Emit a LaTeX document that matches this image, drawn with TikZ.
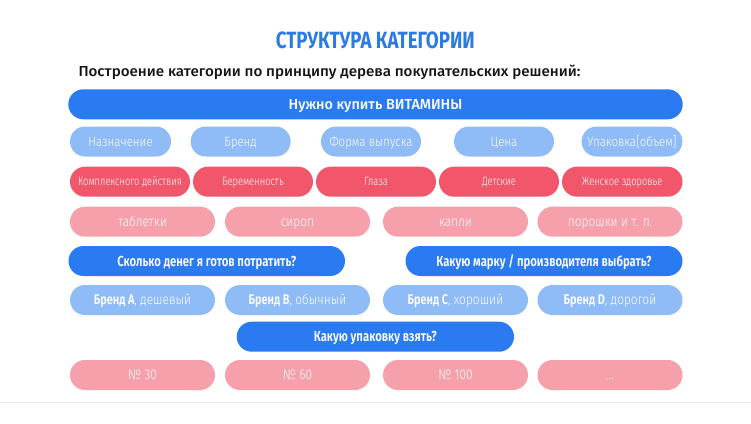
\documentclass[tikz,border=0pt]{standalone}
\usepackage{fontspec}
\setmainfont{Fira Sans}
\newfontfamily\ftitle{Fira Sans}[UprightFont={* Bold}]
\newfontfamily\fsemi{Fira Sans}[UprightFont={* SemiBold},FakeStretch=0.78]
\newfontfamily\fmed{Fira Sans}[UprightFont={* Medium},FakeStretch=0.99]
\newfontfamily\flight{Fira Sans}[UprightFont={* Light},FakeStretch=0.85]
\newfontfamily\fred{Fira Sans}[UprightFont={* Light},FakeStretch=0.78]
\newfontfamily\fsub{Fira Sans}[UprightFont={* Medium}]
\definecolor{mainblue}{HTML}{2A7BF2}
\definecolor{titleblue}{HTML}{2C7BE5}
\definecolor{lightblue}{HTML}{8FBBF7}
\definecolor{redbox}{HTML}{F2566B}
\definecolor{pinkbox}{HTML}{F6A0AB}
\definecolor{subtext}{HTML}{141414}
\tikzset{
  pill/.style={rectangle, rounded corners=15pt, minimum height=30pt, inner sep=0pt, text=white, align=center, text depth=0pt},
  topbar/.style={pill, fill=mainblue, font=\fmed\fontsize{14.5}{16}\selectfont, text height=10pt},
  blueq/.style={pill, fill=mainblue, font=\fsemi\fontsize{14.5}{16}\selectfont, text height=10pt},
  lb/.style={pill, fill=lightblue, font=\flight\fontsize{13.5}{15}\selectfont, text height=9.3pt},
  rd/.style={pill, fill=redbox, font=\fred\fontsize{12}{14}\selectfont, text height=8.3pt},
  pk/.style={pill, fill=pinkbox, font=\flight\fontsize{14}{16}\selectfont, text height=9.6pt},
  brand/.style={pill, fill=lightblue, font=\flight\fontsize{14}{16}\selectfont, text height=9.6pt},
}
\begin{document}
\begin{tikzpicture}[x=1pt,y=-1pt]
\useasboundingbox[fill=white] (0,0) rectangle (751,423);
\draw[black!7, line width=1pt] (0,402) -- (751,402);
% title
\node[inner sep=0pt, text=titleblue] (title) at (375.3,40) {\resizebox{199pt}{16.7pt}{\ftitle СТРУКТУРА КАТЕГОРИИ}};
\node[inner sep=0pt, anchor=base west, text=subtext] (sub) at (78.3,76.7) {\resizebox{502pt}{\height}{\fsub\fontsize{14.5}{16}\selectfont Построение категории по принципу дерева покупательских решений:}};
% row 1
\node[topbar, minimum width=614.4pt] (need) at (375.5,104.3) {Нужно купить ВИТАМИНЫ};
% row 2
\node[lb, minimum width=101pt] (c1) at (120.5,141.5) {Назначение};
\node[lb, minimum width=100pt] (c2) at (240.6,141.5) {Бренд};
\node[lb, minimum width=100pt] (c3) at (371,141.5) {Форма выпуска};
\node[lb, minimum width=100pt] (c4) at (504,141.5) {Цена};
\node[lb, minimum width=100.8pt] (c5) at (632,141.5) {Упаковка[объем]};
% row 3
\node[rd, minimum width=120pt] (p1) at (130,181.7) {Комплексного действия};
\node[rd, minimum width=120pt] (p2) at (253,181.7) {Беременность};
\node[rd, minimum width=120pt] (p3) at (376,181.7) {Глаза};
\node[rd, minimum width=120pt] (p4) at (499,181.7) {Детские};
\node[rd, minimum width=120.5pt] (p5) at (622.25,181.7) {Женское здоровье};
% row 4
\node[pk, minimum width=145pt] (f1) at (142.5,221.7) {таблетки};
\node[pk, minimum width=145pt] (f2) at (297.5,221.7) {сироп};
\node[pk, minimum width=145pt] (f3) at (455.5,221.7) {капли};
\node[pk, minimum width=145pt] (f4) at (610,221.7) {порошки и т. п.};
% row 5
\node[blueq, minimum width=276.5pt] (q1) at (206.75,261) {Сколько денег я готов потратить?};
\node[blueq, minimum width=277pt] (q2) at (544,261) {Какую марку / производителя выбрать?};
% row 6
\node[brand, minimum width=145pt] (b1) at (142.5,300) {{\fsemi Бренд A}, дешевый};
\node[brand, minimum width=145pt] (b2) at (297.5,300) {{\fsemi Бренд B}, обычный};
\node[brand, minimum width=145pt] (b3) at (455.5,300) {{\fsemi Бренд C}, хороший};
\node[brand, minimum width=145pt] (b4) at (610,300) {{\fsemi Бренд D}, дорогой};
% row 7
\node[blueq, minimum width=277.3pt] (q3) at (375.35,336.7) {Какую упаковку взять?};
% row 8
\node[pk, minimum width=145pt] (u1) at (142.5,375) {№ 30};
\node[pk, minimum width=145pt] (u2) at (297.5,375) {№ 60};
\node[pk, minimum width=145pt] (u3) at (455.5,375) {№ 100};
\node[pk, minimum width=145pt] (u4) at (610,375) {...};
\end{tikzpicture}
\end{document}
